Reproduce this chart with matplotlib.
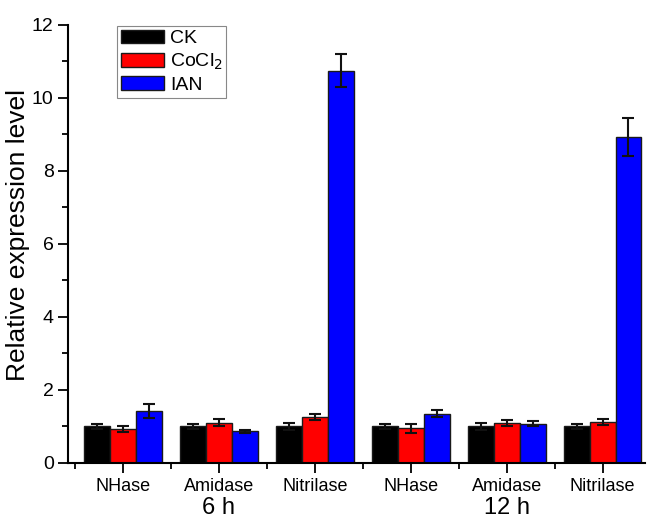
import numpy as np
import matplotlib.pyplot as plt
from matplotlib.ticker import MultipleLocator, FixedLocator

plt.rcParams['font.family'] = ['Liberation Sans', 'DejaVu Sans']

genes = ['NHase', 'Amidase', 'Nitrilase', 'NHase', 'Amidase', 'Nitrilase']
times = ['6 h', '12 h']
treatments = ['CK', 'CoCl$_2$', 'IAN']
colors = ['#000000', '#ff0000', '#0000ff']

ck = [1.00, 1.00, 1.00, 1.00, 1.00, 1.00]
ck_err = [0.07, 0.07, 0.10, 0.07, 0.10, 0.08]
cocl2 = [0.93, 1.10, 1.27, 0.95, 1.10, 1.12]
cocl2_err = [0.09, 0.10, 0.08, 0.13, 0.08, 0.08]
ian = [1.42, 0.87, 10.75, 1.35, 1.07, 8.93]
ian_err = [0.20, 0.04, 0.44, 0.10, 0.07, 0.51]

fig = plt.figure(figsize=(6.5, 5.19), dpi=100)
ax = fig.add_axes([0.105, 0.108, 0.887, 0.844])

x = np.arange(len(genes))
width = 0.27
for i, (vals, errs) in enumerate([(ck, ck_err), (cocl2, cocl2_err), (ian, ian_err)]):
    ax.bar(x + (i - 1) * width, vals, width, color=colors[i], edgecolor='#1a1a1a',
           linewidth=1.0, label=treatments[i], zorder=2)
    ax.errorbar(x + (i - 1) * width, vals, yerr=errs, fmt='none', ecolor='#111111',
                elinewidth=1.5, capsize=4, capthick=1.5, zorder=3)

ax.set_xlim(-0.57, 5.44)
ax.set_ylim(0, 12)
ax.set_xticks(x)
ax.set_xticklabels(genes, fontsize=13)
ax.xaxis.set_minor_locator(FixedLocator(np.arange(-0.5, 5.5, 1.0)))
ax.yaxis.set_major_locator(MultipleLocator(2))
ax.yaxis.set_minor_locator(MultipleLocator(1))
ax.tick_params(axis='y', labelsize=14)
ax.tick_params(which='major', direction='out', length=7, width=1.3)
ax.tick_params(which='minor', direction='out', length=4, width=1.3)
ax.set_ylabel('Relative expression level', fontsize=19)
ax.yaxis.set_label_coords(-0.066, 0.52)

for side in ['top', 'right']:
    ax.spines[side].set_visible(False)
for side in ['left', 'bottom']:
    ax.spines[side].set_linewidth(1.5)

# time point labels under each set of three genes
for j, t in enumerate(times):
    ax.text(1 + 3 * j, -0.078, t, transform=ax.get_xaxis_transform(),
            ha='center', va='top', fontsize=17)

leg = ax.legend(loc='upper left', bbox_to_anchor=(0.085, 0.998), fontsize=14,
                handlelength=2.2, handleheight=0.7, handletextpad=0.3,
                labelspacing=0.22, borderpad=0.2, borderaxespad=0.0,
                fancybox=False, edgecolor='#888888', framealpha=1)
leg.get_frame().set_linewidth(0.8)

fig.savefig('out.png', dpi=100)
